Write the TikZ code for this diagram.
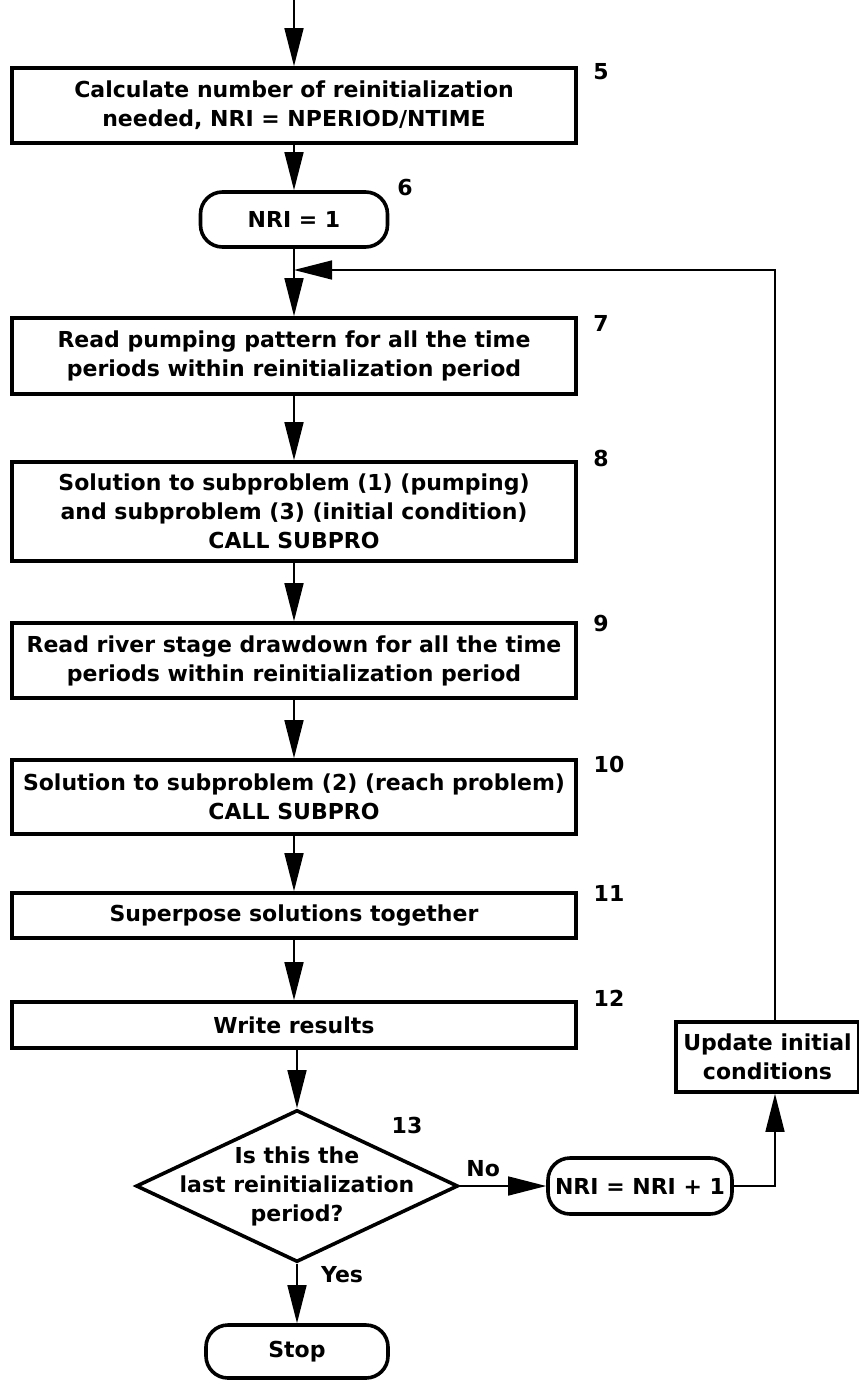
\documentclass[tikz,border=0pt]{standalone}
\usepackage{fontspec}
\setmainfont{DejaVu Sans}
\usetikzlibrary{arrows.meta,shapes.geometric,positioning,calc}

\begin{document}
\begin{tikzpicture}[x=1pt,y=-1pt,
	font=\fontsize{22}{29}\selectfont\bfseries,
	box/.style={draw,line width=3.6pt,rectangle,minimum width=564pt,align=center,inner sep=2pt},
	term/.style={draw,line width=3.6pt,rectangle,rounded corners=22pt,align=center},
	decision/.style={draw,line width=3.6pt,diamond,minimum width=322pt,minimum height=152pt,inner sep=0pt},
	num/.style={anchor=center},
	flow/.style={line width=1.5pt,-{Triangle[length=38pt,width=19pt]}}]
	\useasboundingbox (0,0) rectangle (859,1381);
	\coordinate (start) at (294,0);
	\node[box,minimum height=75pt] (b5) at (294,105.5) {Calculate number of reinitialization\\needed, NRI = NPERIOD/NTIME};
	\node[term,minimum width=187pt,minimum height=55pt] (t6) at (294,219.5) {NRI = 1};
	\coordinate (j7) at (294,270);
	\node[box,minimum height=76pt] (b7) at (294,356) {Read pumping pattern for all the time\\periods within reinitialization period};
	\node[box,minimum height=99pt] (b8) at (294,511.5) {Solution to subproblem (1) (pumping)\\and subproblem (3) (initial condition)\\CALL SUBPRO};
	\node[box,minimum height=75pt] (b9) at (294,660.5) {Read river stage drawdown for all the time\\periods within reinitialization period};
	\node[box,minimum height=74pt] (b10) at (294,797) {Solution to subproblem (2) (reach problem)\\CALL SUBPRO};
	\node[box,minimum height=45pt] (b11) at (294,915.5) {Superpose solutions together};
	\node[box,minimum height=46pt] (b12) at (294,1025) {Write results};
	\node[decision] (d13) at (297,1186) {};
	\node[align=center] at (d13) {Is this the\\last reinitialization\\period?};
	\node[term,minimum width=182pt,minimum height=53pt] (stop) at (297,1351.5) {Stop};
	\node[term,minimum width=184pt,minimum height=56pt] (t14) at (640,1186) {NRI = NRI + 1};
	\node[box,minimum width=183pt,minimum height=70pt] (upd) at (767.5,1057) {Update initial\\conditions};
	\coordinate (ret) at (775,270);
	% step numbers
	\node[num] at (601,72) {5};
	\node[num] at (405,188) {6};
	\node[num] at (601,323) {7};
	\node[num] at (601,458) {8};
	\node[num] at (601,623) {9};
	\node[num] at (609,764) {10};
	\node[num] at (609,893) {11};
	\node[num] at (609,998) {12};
	\node[num] at (407,1125) {13};
	% arrows
	\draw[flow] (start) -- (b5.north -| start);
	\draw[flow] (b5.south -| j7) -- (t6.north);
	\draw[line width=1.5pt] (t6.south) -- (j7);
	\draw[flow] (j7) -- (b7.north -| j7);
	\draw[flow] (b7.south -| j7) -- (b8.north -| j7);
	\draw[flow] (b8.south -| j7) -- (b9.north -| j7);
	\draw[flow] (b9.south -| j7) -- (b10.north -| j7);
	\draw[flow] (b10.south -| j7) -- (b11.north -| j7);
	\draw[flow] (b11.south -| j7) -- (b12.north -| j7);
	\draw[flow] (b12.south -| d13) -- (d13.north);
	\draw[flow] (d13.south) -- node[right=20pt,pos=0.18] {Yes} (stop.north);
	\draw[flow] (d13.east) -- node[above=5pt,pos=0.27] {No} (t14.west);
	\draw[flow] (t14.east) -| (upd.south -| ret);
	\draw[flow] (upd.north -| ret) -- (ret) -- (j7);
\end{tikzpicture}
\end{document}
